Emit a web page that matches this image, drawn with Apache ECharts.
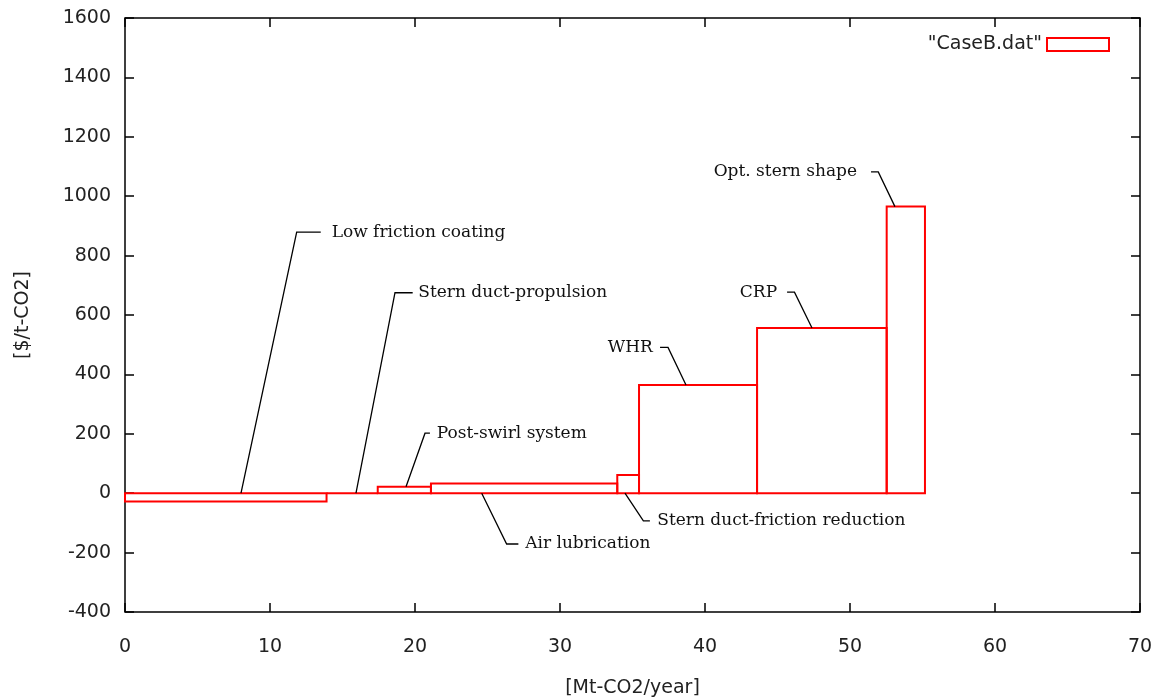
<!DOCTYPE html>
<html><head><meta charset="utf-8">
<script src="https://cdn.jsdelivr.net/npm/echarts@6/dist/echarts.min.js"></script>
<style>html,body{margin:0;padding:0;background:#fff}#c{width:1162px;height:700px}</style>
</head><body><div id="c"></div>
<script>
// --- data ---
const measures = ['Low friction coating','Stern duct-propulsion','Post-swirl system','Air lubrication','Stern duct-friction reduction','WHR','CRP','Opt. stern shape'];
const reductions = [13.9, 3.53, 3.67, 12.85, 1.5, 8.14, 8.94, 2.64]; // Mt-CO2/year
const costs = [-28, 0, 22, 33, 61, 364, 556, 965]; // $/t-CO2
const seriesName = '"CaseB.dat"';
const xTicks = [0,10,20,30,40,50,60,70];
const yTicks = [-400,-200,0,200,400,600,800,1000,1200,1400,1600];
// annotation leader lines (data coords): start point, elbow point, end x, text anchor x, alignment
const annoStart = [[8.0,0],[15.93,0],[19.38,22],[24.6,0],[34.48,0],[38.69,364],[47.38,556],[53.1,965]];
const annoElbow = [[11.84,879],[18.62,675],[20.69,202],[26.32,-171],[35.75,-93],[37.45,491],[46.17,677],[51.95,1082]];
const annoEndX  = [13.5,19.84,21.03,27.13,36.2,36.9,45.66,51.45];
const annoTextX = [14.25,20.23,21.5,27.6,36.71,36.4,44.97,50.48];
const annoAlign = ['left','left','left','left','left','right','right','right'];

// cumulative x positions
const bars = [];
let acc = 0;
for (let i = 0; i < measures.length; i++) {
  bars.push([acc, acc + reductions[i], costs[i], measures[i]]);
  acc += reductions[i];
}
const annos = measures.map((m,i)=>[annoStart[i][0],annoStart[i][1],annoElbow[i][0],annoElbow[i][1],annoEndX[i],annoTextX[i],i]);

const chart = echarts.init(document.getElementById('c'));
const tickFont = {fontFamily:'DejaVu Sans', fontSize:19, color:'#222'};
const tick = {show:true,inside:true,length:9,lineStyle:{color:'#000',width:1.5}};
const noLine = {show:false,onZero:false};
chart.setOption({
  animation:false,
  grid:{left:125,right:22,top:18,bottom:88,show:true,borderColor:'#000',borderWidth:1.5,backgroundColor:'transparent',
        containLabel:false,outerBoundsMode:'none'},
  legend:{
    right:47, top:30, align:'right', itemWidth:62, itemHeight:13,
    textStyle:{fontFamily:'DejaVu Sans',fontSize:19,color:'#222'},
    data:[{name:seriesName, icon:'rect', itemStyle:{color:'#fff',borderColor:'#ff0000',borderWidth:2}}]
  },
  xAxis:[
    {type:'value',min:xTicks[0],max:xTicks[xTicks.length-1],interval:10,position:'bottom',
     name:'[Mt-CO2/year]',nameLocation:'middle',nameGap:67,nameTextStyle:tickFont,
     axisLine:noLine,axisTick:tick,
     axisLabel:Object.assign({margin:26,formatter:v=>String(v)},tickFont),splitLine:{show:false}},
    {type:'value',min:xTicks[0],max:xTicks[xTicks.length-1],interval:10,position:'top',
     axisLine:noLine,axisTick:tick,axisLabel:{show:false},splitLine:{show:false}}
  ],
  yAxis:[
    {type:'value',min:yTicks[0],max:yTicks[yTicks.length-1],interval:200,position:'left',
     name:'[$/t-CO2]',nameLocation:'middle',nameGap:92,nameRotate:90,nameTextStyle:tickFont,
     axisLine:noLine,axisTick:tick,
     axisLabel:Object.assign({margin:14,formatter:v=>String(v)},tickFont),splitLine:{show:false}},
    {type:'value',min:yTicks[0],max:yTicks[yTicks.length-1],interval:200,position:'right',
     axisLine:noLine,axisTick:tick,axisLabel:{show:false},splitLine:{show:false}}
  ],
  series:[
    {
      name:seriesName,type:'custom',xAxisIndex:0,yAxisIndex:0,
      data:bars,
      encode:{x:[0,1],y:2},
      renderItem:function(params,api){
        const p0 = api.coord([api.value(0),0]);
        const p1 = api.coord([api.value(1),api.value(2)]);
        return {type:'rect',
          shape:{x:Math.min(p0[0],p1[0]),y:Math.min(p0[1],p1[1]),width:Math.abs(p1[0]-p0[0]),height:Math.abs(p1[1]-p0[1])},
          style:{fill:'none',stroke:'#ff0000',lineWidth:2}};
      }
    },
    {
      name:'annotations',type:'custom',xAxisIndex:0,yAxisIndex:0,
      data:annos, silent:true,
      encode:{x:[0,2],y:[1,3]},
      renderItem:function(params,api){
        const i = api.value(6);
        const s = api.coord([api.value(0),api.value(1)]);
        const e = api.coord([api.value(2),api.value(3)]);
        const h = api.coord([api.value(4),api.value(3)]);
        const t = api.coord([api.value(5),api.value(3)]);
        return {type:'group',children:[
          {type:'polyline',shape:{points:[s,e,h]},style:{stroke:'#000',lineWidth:1.3,fill:'none'}},
          {type:'text',x:t[0],y:t[1],style:{text:measures[i],fill:'#111',font:'17px "DejaVu Serif", serif',
            textAlign:annoAlign[i],textVerticalAlign:'middle'}}
        ]};
      }
    }
  ]
});
</script></body></html>
